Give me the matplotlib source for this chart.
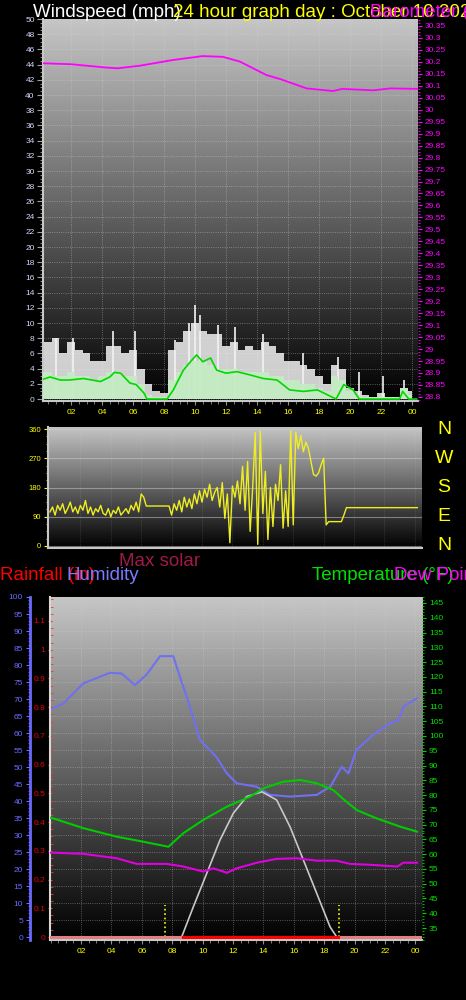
import numpy as np
import matplotlib
matplotlib.use('Agg')
import matplotlib.pyplot as plt
import matplotlib.transforms as mtransforms
from matplotlib.colors import LinearSegmentedColormap
from matplotlib.ticker import MultipleLocator, FuncFormatter

plt.rcParams['font.family'] = ['Liberation Sans', 'DejaVu Sans']

# ---- wind (mph), half-hourly samples 0..24 h
wind_hours = np.arange(0, 24.5, 0.5)
gust_hi = [7, 7.5, 8, 6, 7.5, 6.5, 6, 5, 5, 7, 7, 6, 6.5, 4, 2, 1, 0.8,
           6.5, 7.5, 9, 10, 9, 8.5, 8.5, 7, 7.5, 6.5, 7, 6.5, 7.5, 7, 6, 5,
           5, 4.5, 4, 3, 2, 4.5, 4, 1.5, 1, 0.5, 0.3, 0.8, 0.3, 0.3, 1.5, 1]
speed_hi = [3.5, 3.5, 3, 3, 3.5, 3, 3, 2.5, 3, 3.5, 3.5, 3, 3, 2, 0.5, 0.3,
            0.3, 2.5, 3.5, 4.5, 5, 5, 4.5, 4, 4, 4, 3.5, 3.5, 3.5, 3.5, 3, 3,
            2.5, 2.5, 2, 2, 1.5, 1, 3, 2.5, 1, 0.5, 0.3, 0.3, 0.3, 0.3, 0.3,
            1.5, 0.5]
spike_hours = [1.0, 2.1, 4.7, 6.1, 8.7, 9.6, 10.0, 10.3, 11.5, 12.6, 14.4,
               17.0, 19.2, 20.6, 22.1, 23.5]
spike_vals = [8, 8, 9, 9, 7.8, 10, 12.4, 11, 9.7, 9.5, 8.5, 6, 5.5, 3.5, 3, 2.5]
avg_hours = [0.2, 0.65, 1.3, 1.9, 2.8, 3.9, 4.5, 4.8, 5.2, 5.8, 6.2, 6.7, 6.9,
             8.2, 8.6, 9.25, 9.7, 10.1, 10.5, 11.0, 11.4, 12.0, 12.7, 13.5,
             14.4, 15.3, 16.1, 17.0, 17.9, 18.7, 19.1, 19.6, 20.2, 20.6, 23.2,
             23.4, 23.8, 24.3]
wind_avg = [2.6, 2.9, 2.5, 2.5, 2.7, 2.3, 2.9, 3.5, 3.4, 2.1, 1.9, 0.8, 0, 0,
            1.2, 3.8, 4.9, 5.8, 4.9, 5.4, 3.8, 3.4, 3.6, 3.2, 2.7, 2.5, 1.2,
            1.0, 1.2, 0.4, 0, 1.9, 1.2, 0, 0, 1.0, 0, 0]

# ---- barometer (inHg)
press_hours = [0.2, 2.0, 4.3, 5.0, 6.45, 8.6, 10.5, 11.8, 12.9, 14.6, 15.5,
               17.2, 18.9, 19.5, 21.5, 22.6, 24.4]
pressure = [30.194, 30.19, 30.176, 30.173, 30.184, 30.208, 30.224, 30.221,
            30.201, 30.145, 30.128, 30.089, 30.078, 30.087, 30.081, 30.089,
            30.087]

# ---- wind direction (deg), 10 minute samples
dir_hours = np.arange(146) / 6.0
wind_dir = [105, 120, 95, 125, 110, 130,
            100, 115, 135, 105, 120, 100,
            125, 110, 140, 100, 120, 95,
            115, 105, 125, 100, 95, 115,
            90, 110, 100, 120, 95, 105,
            115, 100, 125, 110, 135, 105,
            160, 150, 123, 123, 123, 123,
            123, 123, 123, 123, 123, 123,
            95, 130, 110, 140, 105, 150,
            120, 145, 115, 160, 130, 170,
            135, 175, 150, 190, 140, 165,
            180, 120, 195, 85, 160, 10,
            185, 150, 200, 130, 245, 110,
            260, 45, 180, 350, 5, 355,
            100, 230, 20, 180, 60, 190,
            140, 250, 55, 170, 60, 355,
            65, 350, 300, 340, 290, 320,
            300, 260, 220, 215, 225, 250,
            270, 65, 75, 75, 75, 75,
            75, 75, 95, 118, 118, 118,
            118, 118, 118, 118, 118, 118,
            118, 118, 118, 118, 118, 118,
            118, 118, 118, 118, 118, 118,
            118, 118, 118, 118, 118, 118,
            118, 118]

# ---- bottom panel
hum_hours = [0.0, 0.18, 0.84, 2.15, 3.9, 4.67, 5.55, 6.3, 7.2, 8.07, 8.5, 9.17,
             9.83, 10.9, 11.6, 12.24, 13.56, 14.43, 15.75, 17.5, 18.4, 19.15,
             19.6, 20.1, 21.2, 22.3, 22.9, 23.2, 24.1]
humidity = [67, 67.3, 68.7, 74.6, 77.7, 77.5, 74.1, 77.1, 82.6, 82.6, 76.6,
            67.7, 57.9, 53.0, 48.1, 45.2, 44.2, 41.8, 41.3, 41.8, 44.2, 50.1,
            48.1, 55.0, 59.4, 62.8, 63.8, 67.7, 70.2]
temp_hours = [0.0, 0.18, 2.15, 4.35, 6.1, 7.75, 8.73, 10.05, 11.6, 13.1, 14.0,
              15.3, 16.4, 17.5, 18.6, 19.26, 20.14, 21.45, 23.0, 24.1]
temperature = [72.3, 72.1, 68.8, 65.9, 64.2, 62.5, 67.1, 71.6, 76.1, 79.4,
               82.3, 84.5, 85.1, 84.0, 81.7, 78.6, 74.9, 72.1, 69.3, 67.6]
dew_hours = [0.0, 0.18, 2.15, 4.35, 5.66, 7.64, 8.73, 10.05, 10.7, 11.6, 12.24,
             13.56, 14.87, 16.2, 17.5, 18.8, 19.7, 21.0, 22.8, 23.2, 24.1]
dew_point = [60.5, 60.5, 60.1, 58.6, 56.7, 56.7, 55.8, 54.1, 55.2, 53.7, 55.2,
             57.1, 58.4, 58.6, 57.8, 57.8, 56.7, 56.4, 55.8, 57.1, 57.1]
solar_hours = [8.62, 9.39, 10.27, 11.14, 12.02, 12.9, 13.9, 14.87, 15.75,
               16.63, 17.5, 18.38, 18.82]
max_solar = [0, 89, 187, 285, 364, 413, 427, 403, 324, 226, 129, 30, 0]
sun_events = [7.53, 19.0]
rain_hours = [-0.04, 24.43]
rain_total = [0, 0]
rate_hours = [8.7, 18.9]
rain_rate = [0, 0]

hour_ticks = list(range(2, 25, 2))
hour_labels = ['%02d' % (h % 24) for h in hour_ticks]

W, H = 466, 1000
fig = plt.figure(figsize=(W / 100, H / 100), dpi=100, facecolor='black')
grey = LinearSegmentedColormap.from_list('g', ['#000000', '#c6c6c6'])
grad = np.linspace(0, 1, 256).reshape(-1, 1)
YEL = '#ffff00'


def rect(x0, y0, x1, y1):
    return [x0 / W, 1 - y1 / H, (x1 - x0) / W, (y1 - y0) / H]


def background(ax):
    ax.imshow(grad, extent=[0, 1, 0, 1], transform=ax.transAxes, cmap=grey,
              origin='lower', aspect='auto', zorder=0)
    for s in ['top', 'right']:
        ax.spines[s].set_visible(False)
    for s in ['left', 'bottom']:
        ax.spines[s].set_color('#c8c8c8')
        ax.spines[s].set_linewidth(1.5)


def hide_spines(ax):
    for s in ax.spines.values():
        s.set_visible(False)


def hour_axis(ax, labels=True):
    ax.set_xticks(hour_ticks)
    ax.xaxis.set_minor_locator(MultipleLocator(0.5))
    if labels:
        ax.set_xticklabels(hour_labels)
    else:
        ax.set_xticklabels([])
    ax.tick_params(axis='x', which='major', colors='#909090', labelcolor=YEL,
                   labelsize=6, length=3, pad=3)
    ax.tick_params(axis='x', which='minor', colors='#909090', length=2)


fmt = FuncFormatter(lambda v, p: '%g' % round(v, 3))

# ---------------- top panel: wind speed + barometer
ax1 = fig.add_axes(rect(43, 19, 418, 401))
background(ax1)
ax1.fill_between(wind_hours, 0, gust_hi, step='mid', color='#f2f2f2',
                 alpha=0.85, lw=0, zorder=2)
ax1.vlines(spike_hours, 0, spike_vals, color='#f2f2f2', lw=1.2, zorder=2)
ax1.fill_between(wind_hours, 0, speed_hi, step='mid', color='#c4ecc4',
                 alpha=0.95, lw=0, zorder=3)
ax1.plot(avg_hours, wind_avg, color='#00d800', lw=1.2, zorder=4)
ax1.set_xlim(0.19, 24.39)
ax1.set_ylim(-0.26, 50)
hour_axis(ax1)
ax1.yaxis.set_major_locator(MultipleLocator(2))
ax1.yaxis.set_minor_locator(MultipleLocator(0.5))
ax1.tick_params(axis='y', which='major', colors='#a0a0a0',
                labelcolor='#d0d8ff', labelsize=6, length=4, pad=2)
ax1.tick_params(axis='y', which='minor', colors='#a0a0a0', length=2)
ax1.grid(True, which='major', color='#d8d8d8', ls=':', lw=0.6, alpha=0.5)

ax1b = ax1.twinx()
hide_spines(ax1b)
ax1b.plot(press_hours, pressure, color='#ff00ff', lw=1.3, zorder=5)
ax1b.set_ylim(28.783, 30.379)
ax1b.yaxis.set_major_locator(MultipleLocator(0.05))
ax1b.yaxis.set_minor_locator(MultipleLocator(0.0125))
ax1b.yaxis.set_major_formatter(fmt)
ax1b.tick_params(axis='y', which='major', colors='#ff00ff',
                 labelcolor='#ff00ff', labelsize=6, length=3, pad=2)
ax1b.tick_params(axis='y', which='minor', colors='#ff00ff', length=1.5)

# ---------------- middle panel: wind direction
ax2 = fig.add_axes(rect(48, 427, 422, 548))
background(ax2)
ax2.plot(dir_hours, wind_dir, color='#eeee22', lw=1.0, zorder=3)
ax2.set_xlim(-0.13, 24.47)
ax2.set_ylim(-6.2, 366.2)
ax2.set_yticks([0, 90, 180, 270, 360])
ax2.yaxis.set_minor_locator(MultipleLocator(22.5))
ax2.tick_params(axis='y', which='major', colors=YEL, labelcolor=YEL,
                labelsize=5.5, length=3, pad=2)
ax2.tick_params(axis='y', which='minor', colors=YEL, length=1.5)
ax2.set_xticks(hour_ticks)
ax2.set_xticklabels([])
ax2.tick_params(axis='x', length=0)
ax2.grid(True, axis='y', color='#d0d0d0', lw=0.8, alpha=0.5)
ax2.grid(True, axis='x', color='#d0d0d0', ls=':', lw=0.5, alpha=0.3)
trans = mtransforms.blended_transform_factory(ax2.transAxes, ax2.transData)
for val, letter in zip([360, 270, 180, 90, 0], ['N', 'W', 'S', 'E', 'N']):
    ax2.text(1.059, val, letter, transform=trans, color=YEL, fontsize=14,
             ha='center', va='center')

# ---------------- bottom panel: humidity, rain, temperature
ax3 = fig.add_axes(rect(50, 597, 422, 940))
background(ax3)
ax3.set_xlim(-0.04, 24.43)
ax3.set_ylim(-0.88, 100)
hour_axis(ax3)
ax3.grid(True, which='major', color='#d0d0d0', ls=':', lw=0.6, alpha=0.5)
ax3.set_yticks(np.arange(0, 101, 5))
ax3.yaxis.set_minor_locator(MultipleLocator(1))
ax3.spines['left'].set_position(('outward', 14.4))
ax3.spines['left'].set_color('#6a6aff')
ax3.spines['left'].set_linewidth(2)
ax3.tick_params(axis='y', which='major', colors='#6a6aff',
                labelcolor='#6a6aff', labelsize=6, length=3, pad=2)
ax3.tick_params(axis='y', which='minor', colors='#6a6aff', length=1.5)
ax3.vlines(sun_events, 0, 9.4, color=YEL, ls=':', lw=1.2, zorder=3)
ax3.plot(hum_hours, humidity, color='#7070f0', lw=1.5, zorder=5)

ax_sol = ax3.twinx()
hide_spines(ax_sol)
ax_sol.set_ylim(-8.8, 1000)
ax_sol.set_yticks([])
ax_sol.plot(solar_hours, max_solar, color='#c8c8c8', lw=1.2, zorder=3)

ax_rain = ax3.twinx()
hide_spines(ax_rain)
ax_rain.spines['left'].set_visible(True)
ax_rain.spines['left'].set_color('#d8d8d8')
ax_rain.spines['left'].set_linewidth(1.5)
ax_rain.yaxis.tick_left()
ax_rain.set_ylim(-0.0104, 1.1835)
ax_rain.yaxis.set_major_locator(MultipleLocator(0.1))
ax_rain.yaxis.set_minor_locator(MultipleLocator(0.025))
ax_rain.yaxis.set_major_formatter(fmt)
ax_rain.tick_params(axis='y', which='major', colors='#ff3030',
                    labelcolor='#e80000', labelsize=6, length=3,
                    direction='inout', pad=2)
ax_rain.tick_params(axis='y', which='minor', colors='#ff3030', length=2,
                    direction='in')
ax_rain.plot(rain_hours, rain_total, color='#e08080', lw=2.2, zorder=3)
ax_rain.plot(rate_hours, rain_rate, color='#ff0000', lw=2.2, zorder=4)

ax_temp = ax3.twinx()
hide_spines(ax_temp)
ax_temp.set_ylim(30.94, 147.03)
ax_temp.set_yticks(np.arange(35, 146, 5))
ax_temp.yaxis.set_minor_locator(MultipleLocator(1))
ax_temp.tick_params(axis='y', which='major', colors='#00d000',
                    labelcolor='#00e000', labelsize=6, length=3, pad=2)
ax_temp.tick_params(axis='y', which='minor', colors='#00d000', length=1.5)
ax_temp.plot(temp_hours, temperature, color='#00cc00', lw=1.5, zorder=4)
ax_temp.plot(dew_hours, dew_point, color='#e000e0', lw=1.5, zorder=4)

# ---------------- titles
def label(x, y, s, c):
    fig.text(x / W, 1 - y / H, s, color=c, fontsize=13.5, va='baseline')

label(33, 17, 'Windspeed (mph)', 'white')
label(173, 17, '24 hour graph day : October 10 2024', YEL)
label(370, 17, 'Barometer (inHg)', '#ff00ff')
label(119, 566, 'Max solar', '#a0194a')
label(0, 580, 'Rainfall (in)', '#ff0000')
label(67, 580, 'Humidity', '#7b7bff')
label(312, 580, 'Temperature (\u00b0F)', '#00e000')
label(394, 580, 'Dew Point (\u00b0F)', '#ff00ff')

fig.savefig('out.png', dpi=100, facecolor='black')
